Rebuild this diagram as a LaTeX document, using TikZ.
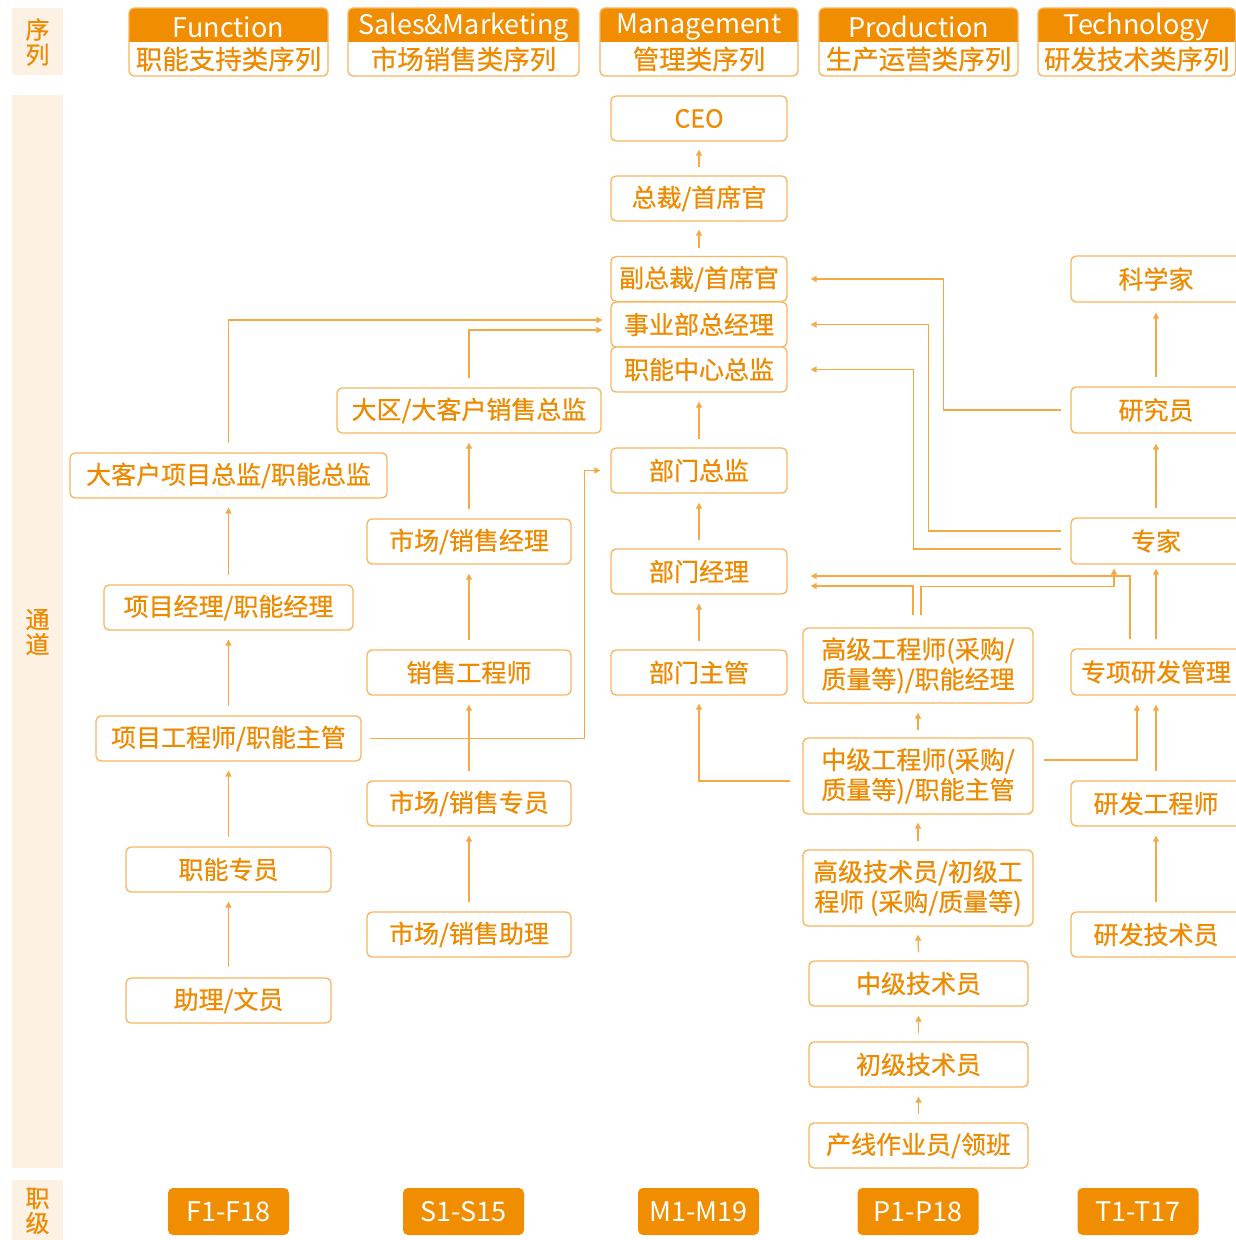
\documentclass[tikz,border=0pt]{standalone}
\usepackage{fontspec}
\setmainfont{Noto Sans CJK SC}
\newfontfamily\bxfont[FakeBold=0.6]{Noto Sans CJK SC}
\usetikzlibrary{arrows.meta}
\definecolor{hc}{HTML}{F08D00}
\definecolor{bc}{HTML}{F8B560}
\definecolor{lc}{HTML}{F6A843}
\definecolor{tc}{HTML}{EE8A00}
\definecolor{cream}{HTML}{FDF1E4}
\tikzset{
 box/.style={draw=bc, line width=1.3pt, rounded corners=5pt, fill=white, text=tc, inner sep=0pt, align=center, font=\bxfont\fontsize{25}{30}\selectfont, minimum height=45pt},
 box2/.style={box, minimum height=75pt},
 arr/.style={draw=lc, line width=1.3pt, -{Triangle[length=6pt,width=6pt]}},
 badge/.style={fill=hc, rounded corners=5pt, text=white, minimum width=121pt, minimum height=47pt, font=\fontsize{27}{30}\selectfont, inner sep=0pt},
 sidetxt/.style={text=tc, font=\bxfont\fontsize{24}{25}\selectfont, align=center, inner sep=0pt},
 htop/.style={text=white, font=\fontsize{27}{30}\selectfont, inner sep=0pt},
 hbot/.style={text=tc, font=\bxfont\fontsize{26.5}{30}\selectfont, inner sep=0pt},
}
\newcommand\hdrbox[5]{%
 \fill[white, rounded corners=5pt] (#1,8) rectangle (#2,76);
 \fill[hc, rounded corners=5pt] (#1,8) rectangle (#2,50);
 \fill[white] (#1,42) rectangle (#2,60);
 \draw[bc, line width=1.3pt, rounded corners=5pt] (#1,8) rectangle (#2,76);
 \node[htop] (#5a) at ({(#1+#2)/2},27) {#3};
 \node[hbot] (#5b) at ({(#1+#2)/2},59) {#4};
}
\begin{document}
\begin{tikzpicture}[x=1pt,y=-1pt]
\useasboundingbox (0,0) rectangle (1236,1240);
\clip (0,0) rectangle (1236,1240);
\fill[white] (0,0) rectangle (1236,1240);
% side bands
\fill[cream] (12,8) rectangle (63,75);
\fill[cream] (12,95) rectangle (63,1168);
\fill[cream] (12,1180) rectangle (63,1240);
\node[sidetxt] (sxl) at (37.5,42) {序\\列};
\node[sidetxt] (std) at (37.5,632) {通\\道};
\node[sidetxt] (szj) at (37.5,1211) {职\\级};
% headers
\hdrbox{129}{328}{Function}{职能支持类序列}{hf}
\hdrbox{348}{579}{Sales\&Marketing}{市场销售类序列}{hs}
\hdrbox{600}{798}{Management}{管理类序列}{hm}
\hdrbox{819}{1018}{Production}{生产运营类序列}{hp}
\hdrbox{1038}{1235.5}{Technology}{研发技术类序列}{ht}
% management
\node[box, minimum width=176pt] (ceo) at (699,118.5) {CEO};
\node[box, minimum width=176pt] (zc) at (699,198.5) {总裁/首席官};
\node[box, minimum width=176pt] (fzc) at (699,279) {副总裁/首席官};
\node[box, minimum width=176pt] (syb) at (699,324.5) {事业部总经理};
\node[box, minimum width=176pt] (znzx) at (699,369.5) {职能中心总监};
\node[box, minimum width=176pt] (bmzj) at (699,470.5) {部门总监};
\node[box, minimum width=176pt] (bmjl) at (699,571.5) {部门经理};
\node[box, minimum width=176pt] (bmzg) at (699,672.5) {部门主管};
% function
\node[box, minimum width=317pt] (dkh) at (228.5,475.5) {大客户项目总监/职能总监};
\node[box, minimum width=249pt] (xmjl) at (228.5,607.5) {项目经理/职能经理};
\node[box, minimum width=265pt] (xmgc) at (228.5,738.5) {项目工程师/职能主管};
\node[box, minimum width=205pt] (znzy) at (228.5,869.5) {职能专员};
\node[box, minimum width=205pt] (zl) at (228.5,1000.5) {助理/文员};
% sales
\node[box, minimum width=264pt] (dq) at (469,410.5) {大区/大客户销售总监};
\node[box, minimum width=204pt] (scjl) at (469,541.5) {市场/销售经理};
\node[box, minimum width=204pt] (xsgc) at (469,672.5) {销售工程师};
\node[box, minimum width=204pt] (sczy) at (469,803.5) {市场/销售专员};
\node[box, minimum width=204pt] (sczl) at (469,934.5) {市场/销售助理};
% production
\node[box2, minimum width=230pt] (gjgc) at (918,665.5) {高级工程师(采购/\\质量等)/职能经理};
\node[box2, minimum width=230pt, minimum height=76pt] (zjgc) at (918,776) {中级工程师(采购/\\质量等)/职能主管};
\node[box2, minimum width=230pt, minimum height=76pt] (gjjs) at (918,888) {高级技术员/初级工\\程师 (采购/质量等)};
\node[box, minimum width=219pt] (zjjs) at (918.5,983.5) {中级技术员};
\node[box, minimum width=219pt] (cjjs) at (918.5,1064.5) {初级技术员};
\node[box, minimum width=219pt] (cx) at (918.5,1145.5) {产线作业员/领班};
% technology
\node[box, minimum width=170pt, minimum height=46pt] (kxj) at (1156,279) {科学家};
\node[box, minimum width=170pt, minimum height=46pt] (yjy) at (1156,410) {研究员};
\node[box, minimum width=170pt, minimum height=46pt] (zj) at (1156,541) {专家};
\node[box, minimum width=170pt, minimum height=46pt] (zxyf) at (1156,672) {专项研发管理};
\node[box, minimum width=170pt] (yfgc) at (1156,803.5) {研发工程师};
\node[box, minimum width=170pt] (yfjs) at (1156,934.5) {研发技术员};
% badges
\node[badge] (bf) at (228.5,1211.5) {F1-F18};
\node[badge] (bs) at (463.5,1211.5) {S1-S15};
\node[badge] (bm) at (698.5,1211.5) {M1-M19};
\node[badge] (bp) at (918,1211.5) {P1-P18};
\node[badge] (bt) at (1138,1211.5) {T1-T17};
% management connectors
\draw[arr] ([yshift=8pt]zc.north) -- ([yshift=-8pt]ceo.south);
\draw[arr] ([yshift=8pt]fzc.north) -- ([yshift=-8pt]zc.south);
\draw[arr] ([yshift=8pt]bmzj.north) -- ([yshift=-9pt]znzx.south);
\draw[arr] ([yshift=8pt]bmjl.north) -- ([yshift=-9pt]bmzj.south);
\draw[arr] ([yshift=8pt]bmzg.north) -- ([yshift=-9pt]bmjl.south);
\draw[arr] ([xshift=-12pt,yshift=-5pt]zjgc.west) -| ([yshift=-8pt]bmzg.south);
% function connectors
\draw[arr] ([yshift=10pt]zl.north) -- ([yshift=-9pt]znzy.south);
\draw[arr] ([yshift=9pt]znzy.north) -- ([yshift=-9pt]xmgc.south);
\draw[arr] ([yshift=9pt]xmgc.north) -- ([yshift=-9pt]xmjl.south);
\draw[arr] ([yshift=9pt]xmjl.north) -- ([yshift=-9pt]dkh.south);
\draw[arr] ([yshift=9pt]dkh.north) |- ([xshift=-8pt,yshift=4.5pt]syb.west);
\draw[arr] ([xshift=8pt]xmgc.east) -| ([xshift=-26pt]bmzj.west) -- ([xshift=-10pt]bmzj.west);
% sales connectors
\draw[arr] ([yshift=9pt]sczl.north) -- ([yshift=-9pt]sczy.south);
\draw[arr] ([yshift=9pt]sczy.north) -- ([yshift=-9pt]xsgc.south);
\draw[arr] ([yshift=9pt]xsgc.north) -- ([yshift=-9pt]scjl.south);
\draw[arr] ([yshift=9pt]scjl.north) -- ([yshift=-9pt]dq.south);
\draw[arr] ([yshift=9pt]dq.north) |- ([xshift=-8pt,yshift=-5.5pt]syb.west);
% production connectors
\draw[arr] ([yshift=8pt]cx.north) -- ([yshift=-9pt]cjjs.south);
\draw[arr] ([yshift=8pt]cjjs.north) -- ([yshift=-9pt]zjjs.south);
\draw[arr] ([yshift=8pt]zjjs.north) -- ([yshift=-8pt]gjjs.south);
\draw[arr] ([yshift=8pt]gjjs.north) -- ([yshift=-8pt]zjgc.south);
\draw[arr] ([yshift=7pt]zjgc.north) -- ([yshift=-9pt]gjgc.south);
\draw[arr] ([xshift=-5pt,yshift=12pt]gjgc.north) |- ([xshift=23pt,yshift=-14.5pt]bmjl.east);
\draw[arr] ([xshift=3pt,yshift=12pt]gjgc.north) |- ([xshift=-42pt,yshift=-22pt]zj.south) -- ([xshift=-42pt,yshift=-4pt]zj.south);
% technology connectors
\draw[arr] ([yshift=9pt]yjy.north) -- ([yshift=-10pt]kxj.south);
\draw[arr] ([yshift=9pt]zj.north) -- ([yshift=-10pt]yjy.south);
\draw[arr] ([yshift=9pt]zxyf.north) -- ([yshift=-4pt]zj.south);
\draw[arr] ([yshift=9pt]yfgc.north) -- ([yshift=-9pt]zxyf.south);
\draw[arr] ([yshift=9pt]yfjs.north) -- ([yshift=-9pt]yfgc.south);
\draw[arr] ([xshift=-26pt,yshift=9pt]zxyf.north) |- ([xshift=23pt,yshift=-4.5pt]bmjl.east);
\draw[arr] ([xshift=10pt,yshift=16pt]zjgc.east) -| ([xshift=-19pt,yshift=-9pt]zxyf.south);
\draw[arr] ([xshift=-9pt]yjy.west) -| ([xshift=156pt]fzc.east) -- ([xshift=23pt]fzc.east);
\draw[arr] ([xshift=-9pt,yshift=10pt]zj.west) -| ([xshift=141pt]syb.east) -- ([xshift=23pt]syb.east);
\draw[arr] ([xshift=-9pt,yshift=-8pt]zj.west) -| ([xshift=126pt]znzx.east) -- ([xshift=23pt]znzx.east);
\end{tikzpicture}
\end{document}
